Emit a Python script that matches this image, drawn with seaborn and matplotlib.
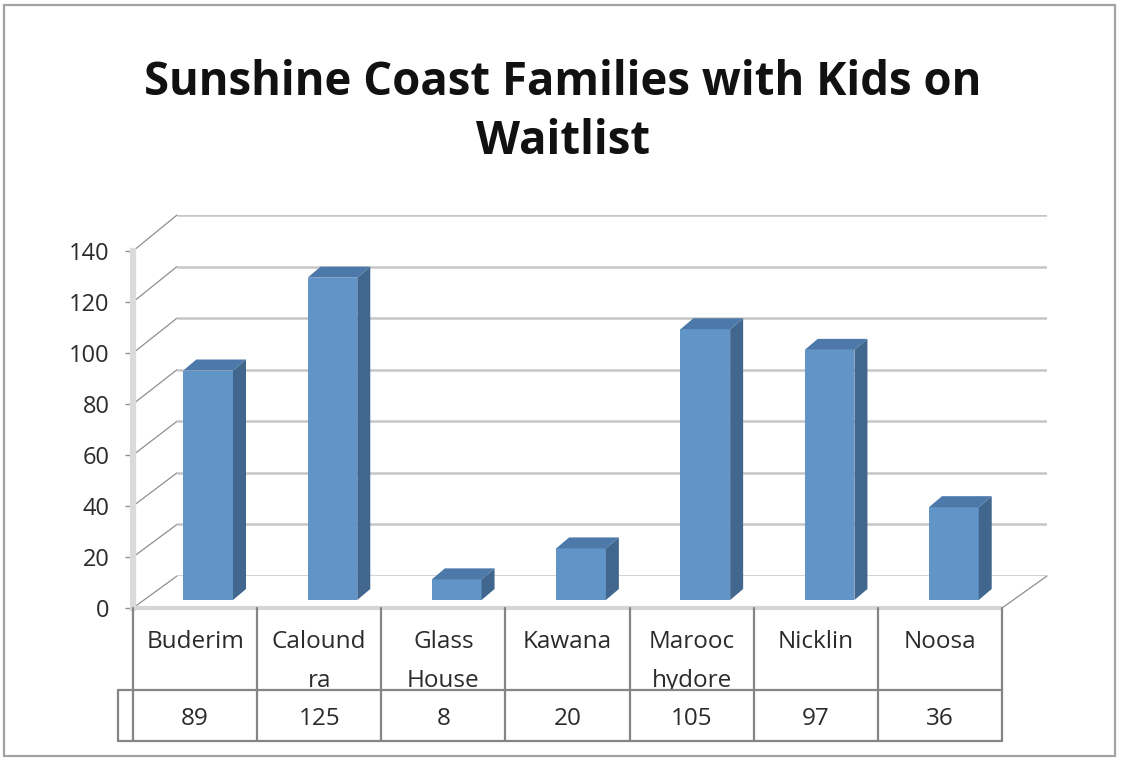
import numpy as np
import pandas as pd
import matplotlib
matplotlib.use("Agg")
import matplotlib.pyplot as plt
import seaborn as sns
from matplotlib.patches import Polygon, Rectangle
from matplotlib.lines import Line2D
from matplotlib import transforms as mtrans

# ---- data -------------------------------------------------------------
suburbs = ["Buderim", "Caloundra", "Glass House", "Kawana",
           "Maroochydore", "Nicklin", "Noosa"]
header_labels = ["Buderim", "Calound\nra", "Glass\nHouse", "Kawana",
                 "Marooc\nhydore", "Nicklin", "Noosa"]
families = [89, 125, 8, 20, 105, 97, 36]
y_ticks = [0, 20, 40, 60, 80, 100, 120, 140]
title = "Sunshine Coast Families with Kids on\nWaitlist"

df = pd.DataFrame({"suburb": suburbs, "families": families})

# ---- style ------------------------------------------------------------
W, H = 1121, 760
sns.set_theme(style="white")
plt.rcParams["font.family"] = ["Open Sans", "DejaVu Sans"]

FRONT = "#6195C7"
SIDE = "#42678E"
TOP = "#4C79AA"
GRID = "#c6c6c6"
EDGE = "#8f8f8f"
TABLE = "#858585"
TEXT = "#2b2b2b"

fig = plt.figure(figsize=(W / 100, H / 100), dpi=100)
fig.patch.set_facecolor("white")

# pixel (top-left origin) -> figure transform for decorations
PIX = mtrans.Affine2D().scale(1 / W, -1 / H).translate(0, 1) + fig.transFigure


def px_axes(left, top, right, bottom, z):
    ax = fig.add_axes([left / W, 1 - bottom / H, (right - left) / W, (bottom - top) / H])
    ax.set_zorder(z)
    ax.patch.set_visible(False)
    ax.set_xlim(-0.5, len(suburbs) - 0.5)
    ax.set_ylim(y_ticks[0], y_ticks[-1])
    return ax


# three planes of the pseudo-3D box: back wall, bar plane, front plane
ax_back = px_axes(177, 215, 1047, 576, 0)
ax_bar = px_axes(146, 239, 1016, 600, 1)
ax_front = px_axes(133, 251, 1002, 608, 2)


def to_pix(ax, x, y):
    dx, dy = ax.transData.transform((x, y))
    return dx, H - dy


# ---- back wall gridlines and side wall --------------------------------
x_lo, x_hi = -0.5, len(suburbs) - 0.5
for v in y_ticks:
    ax_back.plot([x_lo, x_hi], [v, v], color=GRID, lw=1.8,
                 solid_capstyle="butt", zorder=1)
    p0 = to_pix(ax_front, x_lo, v)
    p1 = to_pix(ax_back, x_lo, v)
    fig.add_artist(Line2D([p0[0], p1[0]], [p0[1], p1[1]], transform=PIX,
                          color=EDGE, lw=0.9, zorder=1))

# floor edges
p0 = to_pix(ax_front, x_hi, 0)
p1 = to_pix(ax_back, x_hi, 0)
fig.add_artist(Line2D([p0[0], p1[0]], [p0[1], p1[1]], transform=PIX,
                      color=EDGE, lw=0.9, zorder=1))
ax_front.plot([x_lo, x_hi], [0, 0], color="#d6d6d6", lw=3.0,
              solid_capstyle="butt", clip_on=False)

# ---- bars ---------------------------------------------------------------
sns.barplot(data=df, x="suburb", y="families", ax=ax_bar, color=FRONT,
            saturation=1, width=0.4, linewidth=0, errorbar=None)
ax_bar.set_xlim(x_lo, x_hi)
ax_bar.set_ylim(y_ticks[0], y_ticks[-1])
ax_bar.axis("off")

depth = np.array([13.0, 11.0])  # display-pixel offset of bar depth
inv = ax_bar.transData.inverted()
for p in list(ax_bar.patches):
    x0, w, h = p.get_x(), p.get_width(), p.get_height()
    bl, br, tr, tl = (ax_bar.transData.transform(c)
                      for c in [(x0, 0), (x0 + w, 0), (x0 + w, h), (x0, h)])
    side = inv.transform(np.array([br, tr, tr + depth, br + depth]))
    top = inv.transform(np.array([tl, tr, tr + depth, tl + depth]))
    ax_bar.add_patch(Polygon(side, closed=True, facecolor=SIDE,
                             edgecolor="none", clip_on=False))
    ax_bar.add_patch(Polygon(top, closed=True, facecolor=TOP,
                             edgecolor="none", clip_on=False))

# ---- value axis on the front plane --------------------------------------
ax_back.axis("off")
for s in ["top", "right", "bottom"]:
    ax_front.spines[s].set_visible(False)
ax_front.spines["left"].set_color("#dadada")
ax_front.spines["left"].set_linewidth(4.5)
ax_front.set_xticks([])
ax_front.set_yticks(y_ticks)
ax_front.set_yticklabels([str(v) for v in y_ticks])
ax_front.tick_params(axis="y", left=True, length=6, width=1.0, color=EDGE,
                     pad=11, labelsize=17, labelcolor=TEXT)

# ---- data table -----------------------------------------------------------
row_top, row_mid, row_bot = 608, 690, 741
key_left = to_pix(ax_front, x_lo, 0)[0] - 15
col_edges = [to_pix(ax_front, x_lo + k, 0)[0] for k in range(len(suburbs) + 1)]
col_centers = [to_pix(ax_front, k, 0)[0] for k in range(len(suburbs))]

for cx, lab in zip(col_centers, header_labels):
    for i, line in enumerate(lab.split("\n")):
        fig.text(cx / W, 1 - (642 + 39 * i) / H, line, ha="center", va="center",
                 fontsize=17.5, color=TEXT, zorder=3)

# value row (white cells hide the overflow of wrapped header labels)
fig.add_artist(Rectangle((key_left, row_mid), col_edges[-1] - key_left,
                         row_bot - row_mid, transform=PIX, facecolor="white",
                         edgecolor="none", zorder=4))
for cx, v in zip(col_centers, families):
    fig.text(cx / W, 1 - 719 / H, str(v), ha="center", va="center",
             fontsize=17.5, color=TEXT, zorder=5)

line_kw = dict(transform=PIX, color=TABLE, lw=1.6, zorder=6)
for xe in col_edges:
    fig.add_artist(Line2D([xe, xe], [row_top, row_bot], **line_kw))
fig.add_artist(Line2D([key_left, key_left], [row_mid, row_bot], **line_kw))
for yy in (row_mid, row_bot):
    fig.add_artist(Line2D([key_left, col_edges[-1]], [yy, yy], **line_kw))

# ---- title and chart frame ---------------------------------------------
fig.text(563 / W, 1 - 112 / H, title, ha="center", va="center",
         fontsize=32.8, fontweight="bold", color="#111111", linespacing=1.36)

fig.add_artist(Rectangle((4, 5), 1111, 751, transform=PIX, facecolor="none",
                         edgecolor="#a3a3a3", lw=1.6, zorder=10))

fig.savefig("out.png", dpi=100)
